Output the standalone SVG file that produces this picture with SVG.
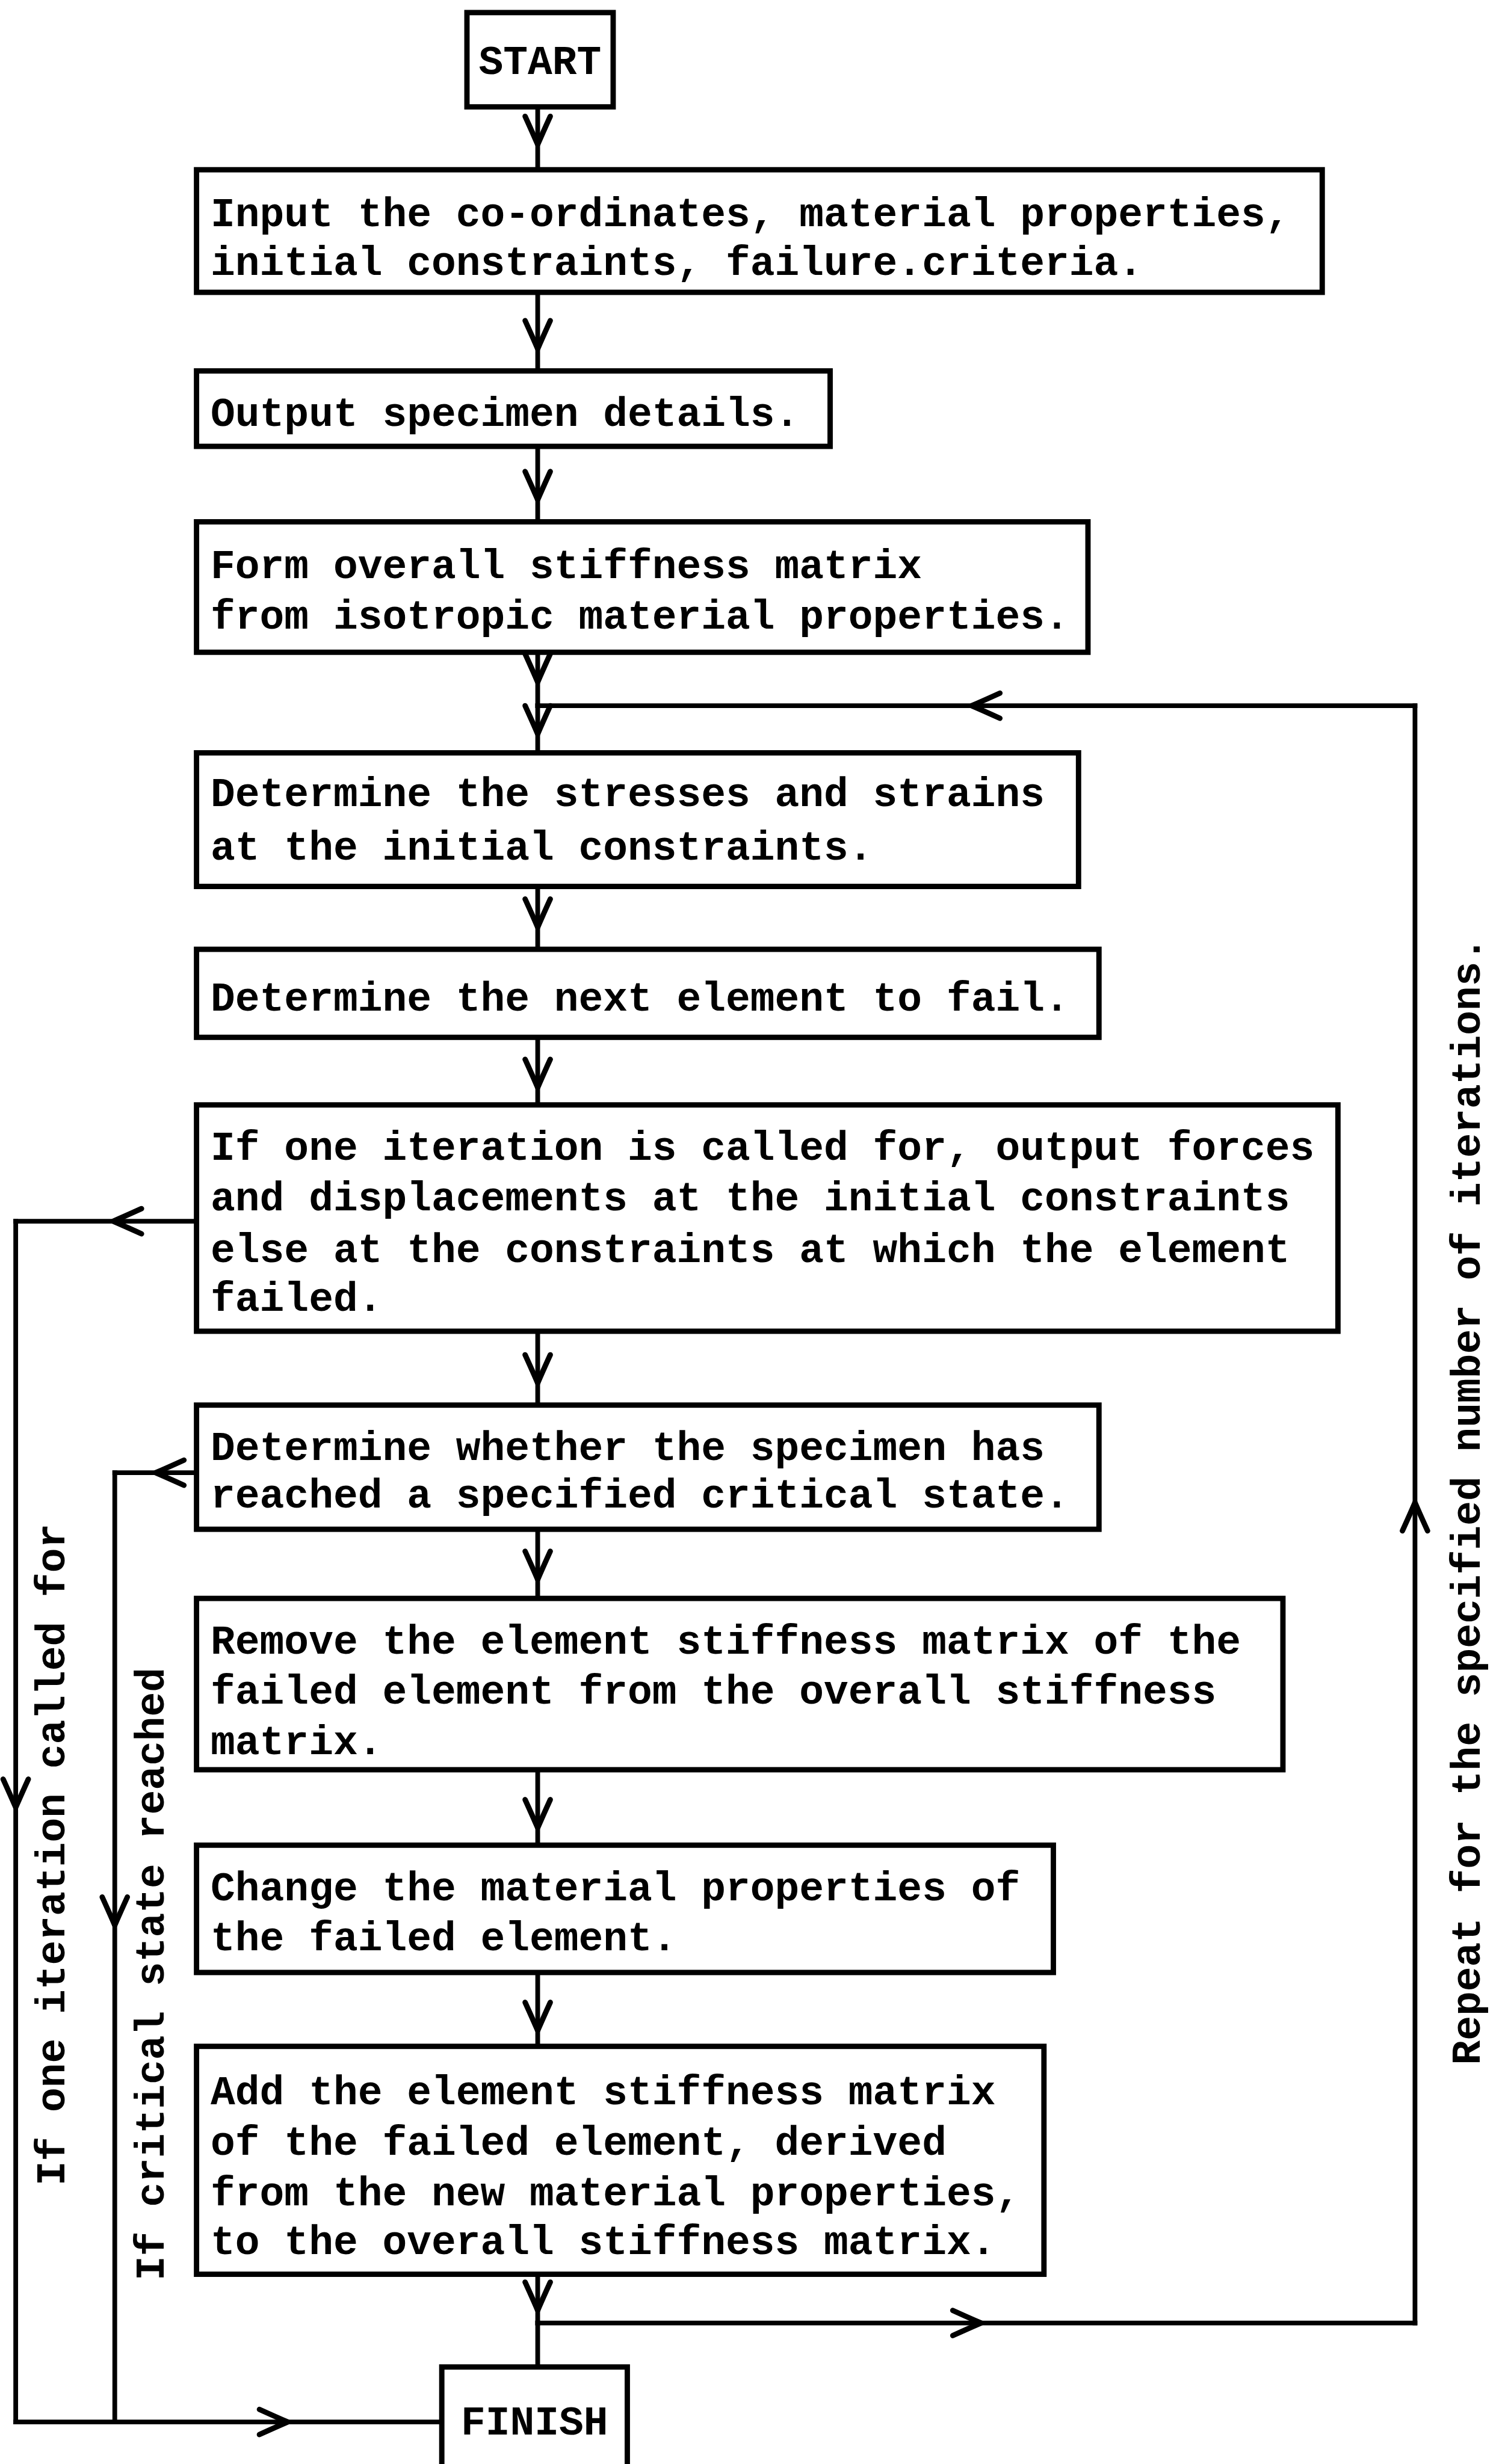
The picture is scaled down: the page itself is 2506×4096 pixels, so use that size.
<svg xmlns="http://www.w3.org/2000/svg" width="2506" height="4096" viewBox="0 0 2506 4096">
<style>
.box{fill:#fff;stroke:#000;stroke-width:3.4}
.t{font-family:"Liberation Mono","Courier New",monospace;font-size:26px;font-weight:bold;fill:#000}
.c{fill:none;stroke:#000;stroke-width:3;stroke-linecap:square;marker-mid:url(#chev)}
.p{fill:none;stroke:#000;stroke-width:3;stroke-linecap:square}
</style>
<defs>
<marker id="chev" markerUnits="userSpaceOnUse" viewBox="-20 -10 22 20" refX="0" refY="0" markerWidth="22" markerHeight="20" orient="auto" overflow="visible">
<path d="M-18,-8 Q-7,-3 0,0 Q-7,3 -18,8" fill="none" stroke="#000" stroke-width="3.4" stroke-linecap="round" stroke-linejoin="round"/>
</marker>
</defs>
<rect width="2506" height="4096" fill="#fff"/>
<g transform="scale(2.6127)">
<g id="connectors">
<path class="c" d="M342,69 V92 V108"/>
<path class="c" d="M342,187 V222 V236"/>
<path class="c" d="M342,284 V318 V332"/>
<path class="c" d="M342,415 V434 V449"/>
<path class="c" d="M342,449 V467 V479"/>
<path class="c" d="M900,449 H618 H342"/>
<path class="c" d="M900,1478 V956 V449"/>
<path class="c" d="M342,1478 H624 H900"/>
<path class="c" d="M342,564 V590 V604"/>
<path class="c" d="M342,660 V692 V703"/>
<path class="c" d="M342,847 V880 V894"/>
<path class="c" d="M342,973 V1005 V1017"/>
<path class="c" d="M342,1126 V1163 V1174"/>
<path class="c" d="M342,1255 V1292 V1302"/>
<path class="c" d="M342,1447 V1470 V1478"/>
<path class="p" d="M342,1478 V1506"/>
<path class="c" d="M125,777 H72 H10"/>
<path class="c" d="M10,777 V1150 V1541"/>
<path class="c" d="M10,1541 H183 H281"/>
<path class="c" d="M125,937 H99 H73"/>
<path class="c" d="M73,937 V1225 V1541"/>
</g>
<g id="label-one-iteration"><text class="t" text-anchor="middle" transform="translate(41,1180) rotate(-90)">If one iteration called for</text></g>
<g id="label-critical"><text class="t" text-anchor="middle" transform="translate(104,1256) rotate(-90)">If critical state reached</text></g>
<g id="label-repeat"><text class="t" text-anchor="middle" transform="translate(941,955) rotate(-90)">Repeat for the specified number of iterations.</text></g>
<g id="start"><rect class="box" x="297" y="8" width="93" height="60"/><text class="t" x="343.5" y="47" text-anchor="middle">START</text></g>
<g id="input"><rect class="box" x="125" y="108" width="716" height="78"/><text class="t" x="134" y="144">Input the co-ordinates, material properties,</text><text class="t" x="134" y="175">initial constraints, failure.criteria.</text></g>
<g id="output"><rect class="box" x="125" y="236" width="403" height="48"/><text class="t" x="134" y="271">Output specimen details.</text></g>
<g id="form"><rect class="box" x="125" y="332" width="567" height="83"/><text class="t" x="134" y="368">Form overall stiffness matrix</text><text class="t" x="134" y="400">from isotropic material properties.</text></g>
<g id="stresses"><rect class="box" x="125" y="479" width="561" height="85"/><text class="t" x="134" y="513">Determine the stresses and strains</text><text class="t" x="134" y="547">at the initial constraints.</text></g>
<g id="next"><rect class="box" x="125" y="604" width="574" height="56"/><text class="t" x="134" y="643">Determine the next element to fail.</text></g>
<g id="iteration"><rect class="box" x="125" y="703" width="726" height="144"/><text class="t" x="134" y="738">If one iteration is called for, output forces</text><text class="t" x="134" y="770">and displacements at the initial constraints</text><text class="t" x="134" y="803">else at the constraints at which the element</text><text class="t" x="134" y="834">failed.</text></g>
<g id="critical"><rect class="box" x="125" y="894" width="574" height="79"/><text class="t" x="134" y="929">Determine whether the specimen has</text><text class="t" x="134" y="959">reached a specified critical state.</text></g>
<g id="remove"><rect class="box" x="125" y="1017" width="691" height="109"/><text class="t" x="134" y="1052">Remove the element stiffness matrix of the</text><text class="t" x="134" y="1084">failed element from the overall stiffness</text><text class="t" x="134" y="1116">matrix.</text></g>
<g id="change"><rect class="box" x="125" y="1174" width="545" height="81"/><text class="t" x="134" y="1209">Change the material properties of</text><text class="t" x="134" y="1241">the failed element.</text></g>
<g id="add"><rect class="box" x="125" y="1302" width="539" height="145"/><text class="t" x="134" y="1339">Add the element stiffness matrix</text><text class="t" x="134" y="1371">of the failed element, derived</text><text class="t" x="134" y="1403">from the new material properties,</text><text class="t" x="134" y="1434">to the overall stiffness matrix.</text></g>
<g id="finish"><rect class="box" x="281" y="1506" width="118" height="90"/><text class="t" x="340" y="1549" text-anchor="middle">FINISH</text></g>
</g>
</svg>
